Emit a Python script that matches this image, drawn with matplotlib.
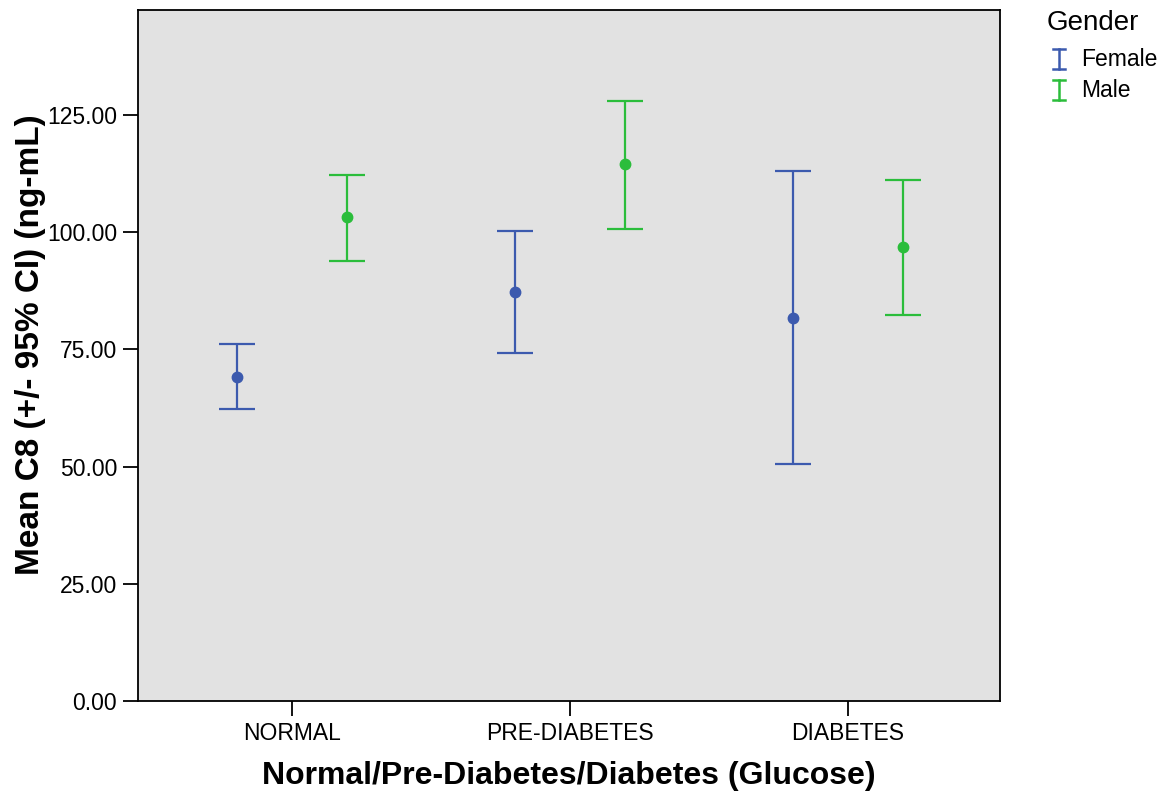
import matplotlib.pyplot as plt
from matplotlib.lines import Line2D
import numpy as np

plt.rcParams['font.family'] = ['Liberation Sans', 'DejaVu Sans']

# 数据：各组均值与95%置信区间
categories = ['NORMAL', 'PRE-DIABETES', 'DIABETES']
female_mean = [69.1, 87.2, 81.7]
female_low = [62.3, 74.2, 50.6]
female_high = [76.2, 100.3, 113.1]
male_mean = [103.2, 114.5, 96.8]
male_low = [93.9, 100.7, 82.3]
male_high = [112.2, 128.0, 111.1]
yticks = [0, 25, 50, 75, 100, 125]

BLUE = '#3c5aae'
GREEN = '#2bbd3b'

fig = plt.figure(figsize=(11.64, 7.92), dpi=100)
ax = fig.add_axes([0.1186, 0.1149, 0.7405, 0.8725])
ax.set_facecolor('#e2e2e2')

x = np.arange(len(categories))
offset = 0.197


def draw(xpos, mean, low, high, color):
    mean = np.array(mean)
    err = [mean - np.array(low), np.array(high) - mean]
    ax.errorbar(xpos, mean, yerr=err, fmt='o', color=color, ecolor=color,
                markersize=7.5, elinewidth=1.6, capsize=13, capthick=1.6)


draw(x - offset, female_mean, female_low, female_high, BLUE)
draw(x + offset, male_mean, male_low, male_high, GREEN)

ax.set_xlim(-0.554, 2.547)
ax.set_ylim(0, 147.4)
ax.set_xticks(x)
ax.set_xticklabels(categories, fontsize=16.5)
ax.set_yticks(yticks)
ax.set_yticklabels([f'{v:.2f}' for v in yticks], fontsize=16.5)
ax.tick_params(direction='out', length=11, width=1.3, colors='black', pad=4)
for s in ax.spines.values():
    s.set_linewidth(1.3)

ax.set_xlabel('Normal/Pre-Diabetes/Diabetes (Glucose)', fontsize=23,
              fontweight='bold', labelpad=12)
ax.set_ylabel('Mean C8 (+/- 95% CI) (ng-mL)', fontsize=24,
              fontweight='bold', labelpad=1)
ax.yaxis.label.set_y(0.515)

# 图例（手动绘制误差棒样式）
W, H = 1164, 792
fig.text(1047 / W, 1 - 23 / H, 'Gender', fontsize=20, va='center', ha='left')
for yc, color, name in [(58.5, BLUE, 'Female'), (89.5, GREEN, 'Male')]:
    xc = 1059
    fig.add_artist(Line2D([xc / W, xc / W], [1 - (yc - 10) / H, 1 - (yc + 10) / H],
                          color=color, lw=1.8, transform=fig.transFigure))
    for yy in (yc - 10, yc + 10):
        fig.add_artist(Line2D([(xc - 6) / W, (xc + 6) / W], [1 - yy / H, 1 - yy / H],
                              color=color, lw=1.8, transform=fig.transFigure))
    fig.text(1081 / W, 1 - (yc + 1) / H, name, fontsize=16.5, va='center', ha='left')

fig.savefig('out.png', dpi=100)
